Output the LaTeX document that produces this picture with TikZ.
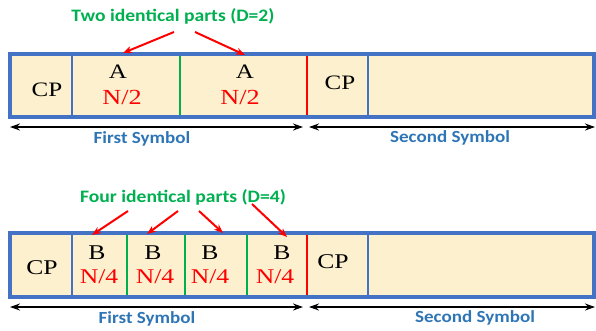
\documentclass[tikz,border=0pt]{standalone}
\usepackage{fontspec}
\setmainfont{Liberation Serif}
\newfontfamily\tnr[FakeStretch=1.22]{Liberation Serif}
\newfontfamily\lblfont[FakeStretch=1.12]{Carlito Bold}
\usetikzlibrary{arrows.meta}
\definecolor{boxfill}{RGB}{253,240,206}
\definecolor{boxblue}{RGB}{68,114,196}
\definecolor{pgreen}{RGB}{0,176,80}
\definecolor{lblblue}{RGB}{46,117,182}
\begin{document}
\begin{tikzpicture}[x=1pt,y=-1pt,
  outline/.style={draw=boxblue,line width=3.2pt},
  bdiv/.style={draw=boxblue,line width=2pt},
  gdiv/.style={draw=pgreen,line width=2pt},
  rdiv/.style={draw=red,line width=2pt},
  dim/.style={{Stealth[length=10pt,width=7pt]}-{Stealth[length=10pt,width=7pt]},line width=1.6pt,black},
  rarr/.style={-{Stealth[length=9pt,width=7pt]},line width=2pt,red},
  title/.style={font=\lblfont\fontsize{17.5}{19}\selectfont,text=pgreen,inner sep=0pt},
  symlbl/.style={font=\lblfont\fontsize{17}{19}\selectfont,text=lblblue,inner sep=0pt},
  blk/.style={font=\tnr\fontsize{20.5}{22}\selectfont,text=black,inner sep=0pt},
  redt/.style={font=\tnr\fontsize{21.5}{23}\selectfont,text=red,inner sep=0pt},
  blkb/.style={font=\tnr\fontsize{21}{23}\selectfont,text=black,inner sep=0pt},
  redb/.style={font=\tnr\fontsize{21}{23}\selectfont,text=red,inner sep=0pt}]
\useasboundingbox (0,0) rectangle (596,330);
% ---------- top frame ----------
\fill[boxfill] (10,54) rectangle (594,117);
\draw[bdiv] (72,54) -- (72,117);
\draw[gdiv] (180,54) -- (180,117);
\draw[rdiv] (307,54) -- (307,117);
\draw[bdiv] (368,54) -- (368,117);
\draw[outline] (10,54) rectangle (594,117);
\node[blk] (cp1) at (47,90) {CP};
\node[blk] (a1) at (118,72) {A};
\node[redt] (n21) at (122,97) {N/2};
\node[blk] (a2) at (245,72) {A};
\node[redt] (n22) at (240,97) {N/2};
\node[blk] (cp2) at (340,83) {CP};
\node[title] (t1) at (173,16) {Two identical parts (D=2)};
\coordinate (t1a) at (174,32);
\coordinate (t1b) at (195,32);
\coordinate (e1a) at (123,53);
\coordinate (e1b) at (245,55);
\draw[rarr] (t1a) -- (e1a);
\draw[rarr] (t1b) -- (e1b);
\coordinate (s1l) at (10,127);
\coordinate (s1r) at (303,127);
\coordinate (s2l) at (309,127);
\coordinate (s2r) at (595,127);
\draw[dim] (s1l) -- (s1r);
\draw[dim] (s2l) -- (s2r);
\node[symlbl] (fs1) at (142,139) {First Symbol};
\node[symlbl] (ss1) at (450,138) {Second Symbol};
% ---------- bottom frame ----------
\fill[boxfill] (10,233) rectangle (594,297);
\draw[bdiv] (72,233) -- (72,297);
\draw[gdiv] (127,233) -- (127,297);
\draw[gdiv] (185,233) -- (185,297);
\draw[gdiv] (247,233) -- (247,297);
\draw[rdiv] (307,233) -- (307,297);
\draw[bdiv] (368,233) -- (368,297);
\draw[outline] (10,233) rectangle (594,297);
\node[blkb] (cp3) at (42,268) {CP};
\node[blkb] (b1) at (97,253) {B};
\node[redb] (n41) at (99,277) {N/4};
\node[blkb] (b2) at (153,253) {B};
\node[redb] (n42) at (155,277) {N/4};
\node[blkb] (b3) at (210,253) {B};
\node[redb] (n43) at (210,277) {N/4};
\node[blkb] (b4) at (282,253) {B};
\node[redb] (n44) at (275,277) {N/4};
\node[blkb] (cp4) at (333,262) {CP};
\node[title] (t2) at (183,197) {Four identical parts (D=4)};
\coordinate (t2a) at (128,211);
\coordinate (t2b) at (178,211);
\coordinate (t2c) at (199,211);
\coordinate (t2d) at (252,204);
\coordinate (e2a) at (92,235);
\coordinate (e2b) at (147,234);
\coordinate (e2c) at (223,233);
\coordinate (e2d) at (287,237);
\draw[rarr] (t2a) -- (e2a);
\draw[rarr] (t2b) -- (e2b);
\draw[rarr] (t2c) -- (e2c);
\draw[rarr] (t2d) -- (e2d);
\coordinate (s3l) at (10,307);
\coordinate (s3r) at (303,307);
\coordinate (s4l) at (309,307);
\coordinate (s4r) at (595,307);
\draw[dim] (s3l) -- (s3r);
\draw[dim] (s4l) -- (s4r);
\node[symlbl] (fs2) at (147,319) {First Symbol};
\node[symlbl] (ss2) at (475,318) {Second Symbol};
\end{tikzpicture}
\end{document}
